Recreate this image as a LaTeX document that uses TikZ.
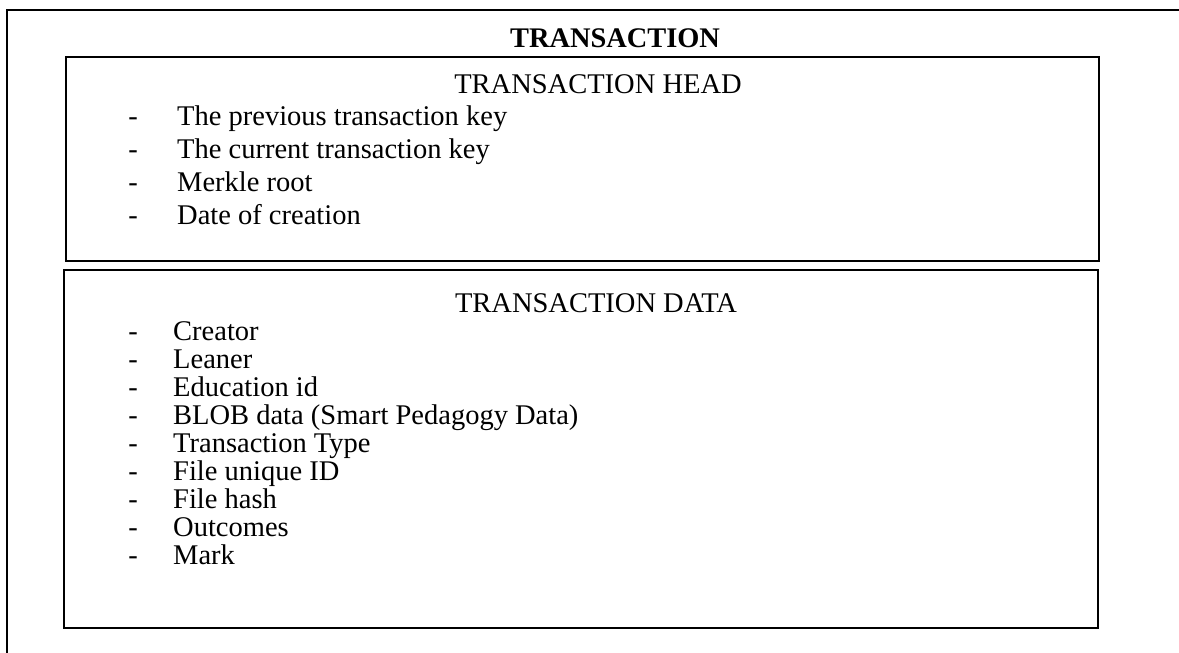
\documentclass[tikz,border=0pt]{standalone}
\usepackage{fontspec}
\setmainfont{Liberation Serif}
\begin{document}
\begin{tikzpicture}[x=1pt,y=-1pt,
  frame/.style={line width=2.2pt,black},
  box/.style={draw,line width=2pt,inner sep=0pt,anchor=north west},
  body/.style={font=\fontsize{28.5}{33}\selectfont,inner sep=0pt},
  heading/.style={body,anchor=base},
  title/.style={font=\fontsize{28.4}{33}\selectfont\bfseries,inner sep=0pt,anchor=base},
  bullet/.style={body,anchor=base},
  item/.style={body,anchor=base west}]
\useasboundingbox (0,0) rectangle (1179,653);
\fill[white] (0,0) rectangle (1179,653);

% outer frame, open to the right and at the bottom
\coordinate (fb) at (7,654);
\coordinate (fc) at (7,10);
\coordinate (fr) at (1180,10);
\draw[frame] (fb) -- (fc) -- (fr);

\node[title] (ttl) at (615,47) {TRANSACTION};

% head block
\node[box,minimum width=1033pt,minimum height=204pt] (head) at (65,56) {};
\node[heading] (hh) at (598,93) {TRANSACTION HEAD};
\foreach \t [count=\i] in {The previous transaction key,The current transaction key,Merkle root,Date of creation}{
  \node[bullet] (hd\i) at (133,{125+33*(\i-1)}) {-};
  \node[item] (hi\i) at (177,{125+33*(\i-1)}) {\t};
}

% data block
\node[box,minimum width=1034pt,minimum height=358pt] (data) at (63,269) {};
\node[heading] (dh) at (596,312) {TRANSACTION DATA};
\foreach \t [count=\i] in {Creator,Leaner,Education id,BLOB data (Smart Pedagogy Data),Transaction Type,File unique ID,File hash,Outcomes,Mark}{
  \node[bullet] (dd\i) at (133,{340+28.1*(\i-1)}) {-};
  \node[item] (di\i) at (173,{340+28.1*(\i-1)}) {\t};
}
\end{tikzpicture}
\end{document}
